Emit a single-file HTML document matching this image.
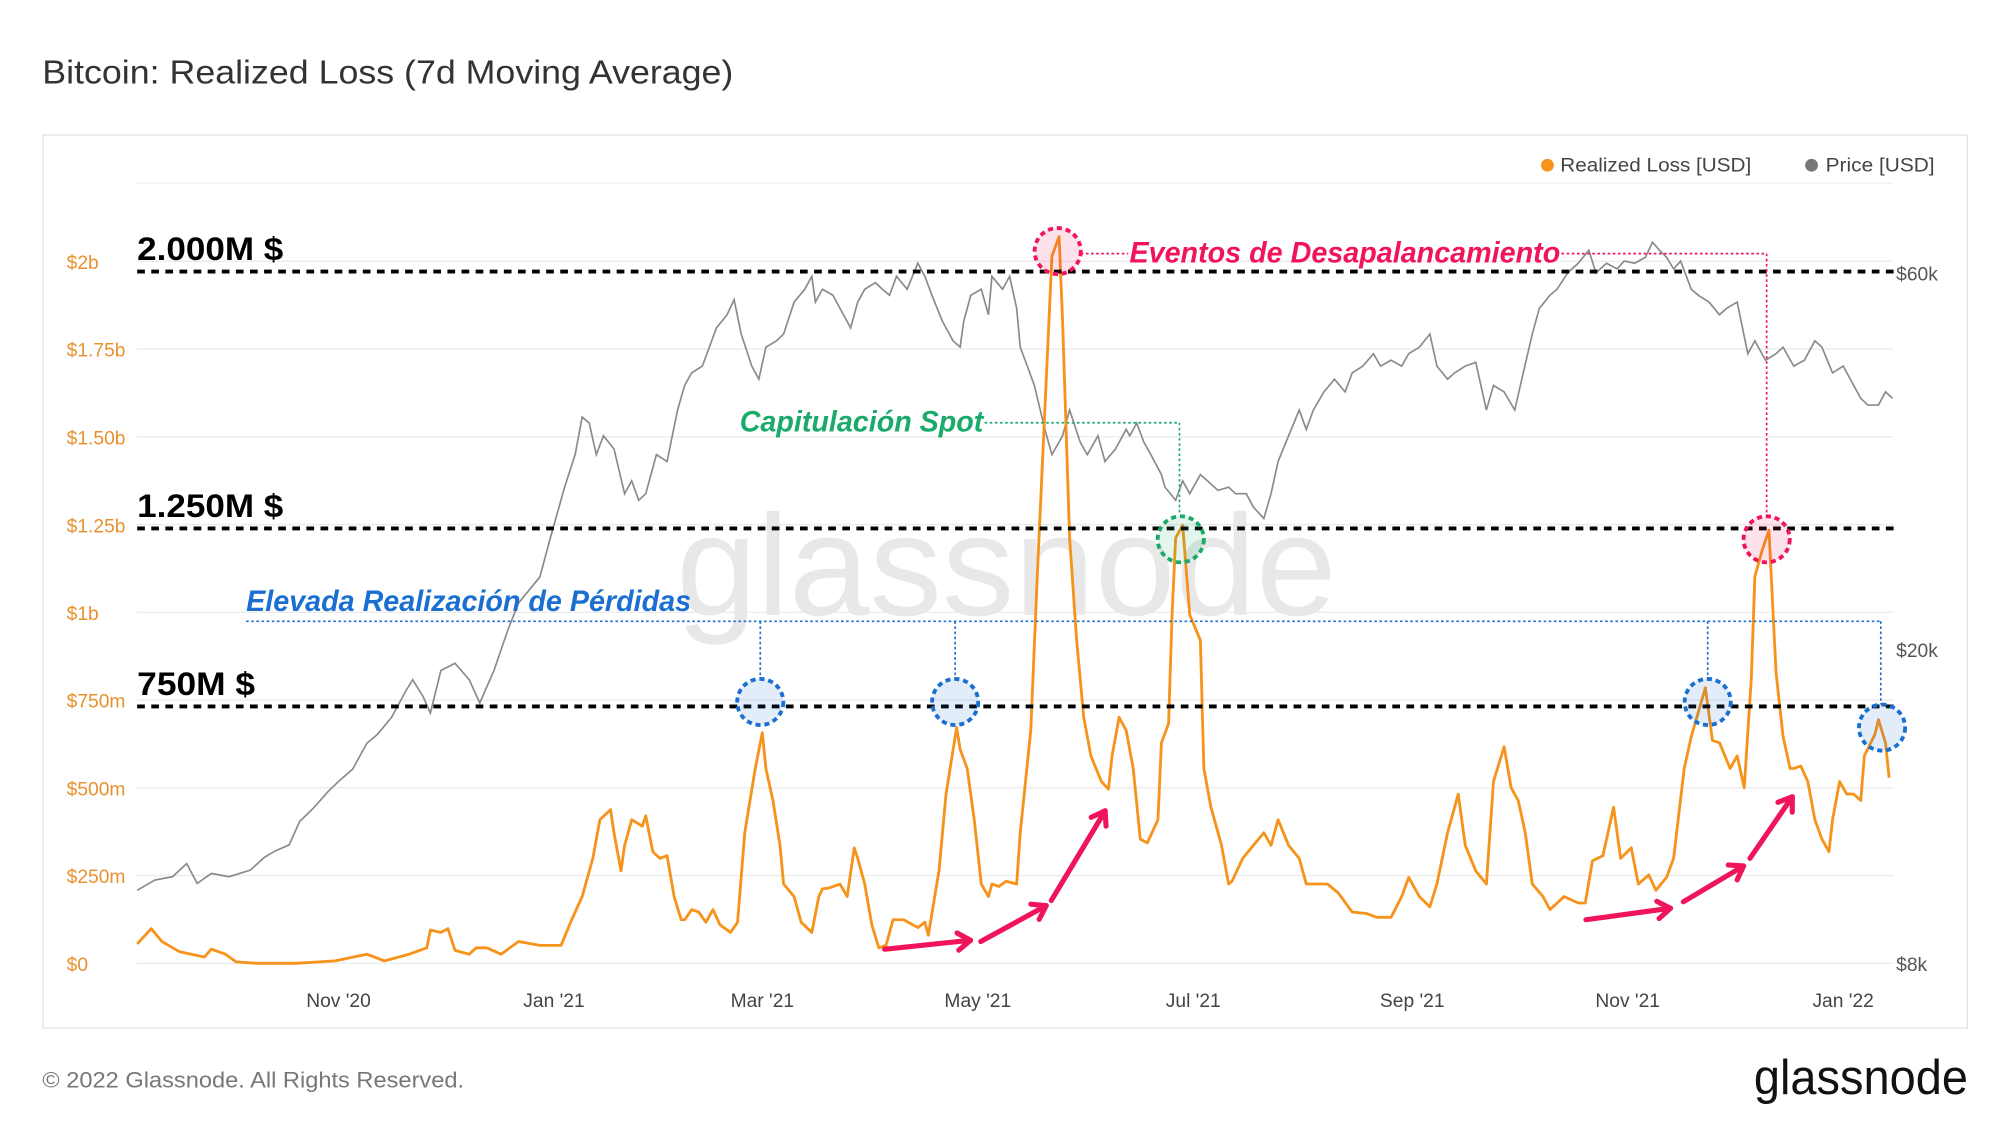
<!DOCTYPE html>
<html><head><meta charset="utf-8"><style>
html,body{margin:0;padding:0;background:#fff;}
svg{display:block;font-family:"Liberation Sans",sans-serif;}
</style></head><body>
<svg id="chart" width="2000" height="1126" viewBox="0 0 1560 879" preserveAspectRatio="none" xmlns="http://www.w3.org/2000/svg">
<rect width="1560" height="879" fill="#fff"/>
<text x="33" y="65" font-size="26" fill="#333" textLength="539" lengthAdjust="spacingAndGlyphs">Bitcoin: Realized Loss (7d Moving Average)</text>
<rect x="33.5" y="105.5" width="1501" height="697" fill="none" stroke="#e3e3e3"/>
<g id="grid"></g>
<text x="785" y="480" font-size="112" fill="#e8e8e8" text-anchor="middle" textLength="515" lengthAdjust="spacingAndGlyphs">glassnode</text>
<g id="series"></g>
<g id="legend">
<circle cx="1207" cy="129" r="5" fill="#f7931a"/>
<text x="1217" y="134" font-size="15" fill="#444" textLength="149" lengthAdjust="spacingAndGlyphs">Realized Loss [USD]</text>
<circle cx="1413" cy="129" r="5" fill="#777"/>
<text x="1424" y="134" font-size="15" fill="#444" textLength="85" lengthAdjust="spacingAndGlyphs">Price [USD]</text>
</g>
<g id="annot"></g>
<text x="33" y="849" font-size="17" fill="#777" textLength="329" lengthAdjust="spacingAndGlyphs">© 2022 Glassnode. All Rights Reserved.</text>
<text x="1535" y="854" font-size="38" fill="#111" text-anchor="end" textLength="167" lengthAdjust="spacingAndGlyphs">glassnode</text>
</svg>
<script>
const lossDays=[0,4,7,12,19,21,25,28,34,45,56,65,70,77,82,83,86,88,90,94,96,99,103,108,114,120,123,126,129,131,134,135,137,138,140,143,144,146,148,150,152,154,155,157,159,161,163,165,168,170,172,175,177,178,180,182,183,186,188,191,193,194,196,199,201,203,204,206,208,210,212,214,217,221,223,224,227,229,232,233,235,237,239,241,242,244,246,249,250,253,255,257,259,261,262,264,266,268,270,273,275,276,278,280,282,284,286,289,290,292,293,294,296,298,301,302,304,307,309,310,313,316,319,321,323,326,329,331,333,337,340,344,348,351,355,358,360,363,366,368,371,374,376,379,382,384,387,389,391,393,395,398,400,404,408,410,412,415,418,420,423,425,428,430,433,435,438,440,444,446,448,451,453,455,457,458,460,462,464,466,468,469,471,473,475,477,479,480,482,484,486,488,489,492,493,495,496];
const lossValues=[55,99,62,33,18,40,26,4,0,0,7,26,7,26,44,95,88,99,37,26,44,44,26,62,51,51,124,190,299,409,438,372,263,336,409,391,420,318,299,307,190,124,124,153,146,117,153,110,88,117,372,555,657,555,464,336,226,190,117,88,190,212,215,226,190,329,299,226,110,44,51,124,124,102,117,80,263,482,672,610,555,409,226,190,226,219,234,226,372,664,1139,1577,2015,2070,1832,1212,920,701,591,518,496,591,701,664,555,354,343,409,628,683,993,1212,1248,993,920,555,445,336,226,234,299,336,372,336,409,336,299,226,226,226,201,146,142,131,131,190,245,190,161,226,372,482,336,263,226,518,617,500,464,372,226,190,153,190,172,172,292,307,445,299,329,226,252,208,245,299,555,646,785,635,628,555,591,500,810,1102,1175,1234,829,646,555,555,562,518,409,354,318,409,518,482,482,464,591,653,694,628,529];
const priceDays=[0,5,10,14,17,21,26,32,36,39,43,46,50,54,57,61,65,68,72,76,78,81,83,86,90,94,97,101,105,108,114,117,121,124,126,128,130,132,135,138,140,142,144,147,150,153,155,157,160,162,164,167,169,171,174,176,178,181,183,186,189,191,192,194,197,199,202,204,206,209,211,213,215,218,221,223,225,228,231,233,234,236,239,241,242,245,247,249,250,252,254,257,259,262,264,267,269,272,274,277,280,281,283,285,287,290,291,294,296,298,301,303,306,309,311,314,316,319,321,323,326,329,331,333,336,339,342,344,347,350,352,355,358,360,363,366,368,371,373,376,379,382,384,387,390,392,395,397,400,402,405,408,411,413,416,419,421,424,427,429,431,433,435,437,440,442,445,448,450,453,456,458,461,464,466,469,472,475,477,480,483,486,488,490,493,495,497];
const priceValues=[9.9,10.2,10.3,10.7,10.1,10.4,10.3,10.5,10.9,11.1,11.3,12.1,12.6,13.2,13.6,14.1,15.2,15.6,16.4,17.7,18.3,17.4,16.6,18.8,19.2,18.3,17.1,18.8,21.2,22.9,24.7,27.7,32.1,35.3,39.4,38.7,35.3,37.3,35.9,31.5,32.7,30.9,31.5,35.3,34.6,40.2,43.2,44.8,45.7,48.3,51.1,53.1,55.5,50.2,45.7,44.0,48.3,49.2,50.2,55.1,57.2,59.4,55.1,57.2,56.2,54.1,51.1,55.1,57.2,58.3,57.2,56.2,59.4,57.2,61.7,59.4,56.2,52.1,49.2,48.3,52.1,56.2,57.2,53.1,59.4,57.2,59.4,54.1,48.3,45.7,43.2,38.0,35.3,37.3,40.2,36.6,35.3,37.3,34.6,35.9,38.0,37.3,38.7,36.6,35.3,33.3,32.1,30.9,32.7,31.5,33.3,32.7,31.8,32.1,31.5,31.5,30.3,29.3,31.5,34.6,37.3,40.2,38.0,40.2,42.4,44.0,42.4,44.8,45.7,47.4,45.7,46.5,45.7,47.4,48.3,50.2,45.7,44.0,44.8,45.7,46.2,40.2,43.2,42.4,40.2,44.0,50.2,54.1,56.2,57.2,60.0,61.7,64.1,60.0,61.7,60.7,62.1,61.7,62.8,65.6,64.1,62.8,60.7,62.1,57.2,56.2,55.1,53.1,54.1,55.1,47.4,49.2,46.5,47.4,48.3,45.7,46.5,49.2,48.3,44.8,45.7,43.2,41.6,40.8,40.8,42.4,41.6];
const leftTicks=["$0","$250m","$500m","$750m","$1b","$1.25b","$1.50b","$1.75b","$2b"];
const leftTickValues=[0,250,500,750,1000,1250,1500,1750,2000];
const rightTickLabels=["$8k","$20k","$60k"];
const rightTickValues=[8,20,60];
const xTickLabels=["Nov '20","Jan '21","Mar '21","May '21","Jul '21","Sep '21","Nov '21","Jan '22"];
const xTickDays=[57,118,177,238,299,361,422,483];
const levelValues=[2000,1250,750];
const levelLabels=["2.000M $","1.250M $","750M $"];

const NS="http://www.w3.org/2000/svg";
const X0=107,X1=1477,PXD=2.755,Y0=752;
const xs=d=>X0+d*PXD;
const yL=v=>Y0-v*68.5/250;
const yP=p=>Y0-539*Math.log(p/8)/Math.log(7.5);
function mk(tag,attrs,parent){const e=document.createElementNS(NS,tag);for(const k in attrs)e.setAttribute(k,attrs[k]);parent.appendChild(e);return e;}
const grid=document.getElementById('grid'),ser=document.getElementById('series'),an=document.getElementById('annot');
mk('line',{x1:X0,x2:X1,y1:143,y2:143,stroke:'#f0f0f0'},grid);
leftTickValues.forEach((v,i)=>{
  const l=mk('line',{x1:X0,x2:X1,y1:yL(v),y2:yL(v),stroke:'#ececec'},grid);
  
  
  const t=mk('text',{x:52,y:yL(v)+6,'font-size':15,fill:'#e8912d'},grid);t.textContent=leftTicks[i];
  
  
});
rightTickValues.forEach((v,i)=>{
  const t=mk('text',{x:1479,y:yP(v)+6,'font-size':15,fill:'#555'},grid);t.textContent=rightTickLabels[i];
  
  
});
xTickDays.forEach((d,i)=>{
  const t=mk('text',{x:xs(d),y:786,'font-size':15,fill:'#444','text-anchor':'middle'},grid);t.textContent=xTickLabels[i];
  
  
});
const pp=mk('path',{d:priceDays.map((d,i)=>(i?'L':'M')+xs(d).toFixed(1)+','+yP(priceValues[i]).toFixed(1)).join(''),fill:'none',stroke:'#8a8a8a','stroke-width':1.3},ser);


const lp=mk('path',{d:lossDays.map((d,i)=>(i?'L':'M')+xs(d).toFixed(1)+','+yL(lossValues[i]).toFixed(1)).join(''),fill:'none',stroke:'#f7931a','stroke-width':2.2,'stroke-linejoin':'round'},ser);


const lvlW=[114,114,92];
levelValues.forEach((v,i)=>{
  const y=yL(v)+[8,3,5][i];
  const l=mk('line',{x1:X0,x2:X1,y1:y,y2:y,stroke:'#000','stroke-width':3,'stroke-dasharray':'6,5'},an);
  
  
  const t=mk('text',{x:107,y:y-9,'font-size':25,'font-weight':'bold',fill:'#000',textLength:lvlW[i],lengthAdjust:'spacingAndGlyphs'},an);t.textContent=levelLabels[i];
  
  
});
function dl(pts,c){const p=mk('polyline',{points:pts,fill:'none',stroke:c,'stroke-width':1.3,'stroke-dasharray':'2,2'},an);return p;}
function circ(x,y,c,f){return mk('circle',{cx:x,cy:y,r:18,fill:f,stroke:c,'stroke-width':3,'stroke-dasharray':'4,3'},an);}
const PINK='#f0145a',GREEN='#1aaa6a',BLUE='#1a6fd0';
dl('843,198 880,198',PINK);dl('1218,198 1378,198 1378,403',PINK);
dl('768,330 920,330 920,402',GREEN);
dl('192,485 1467,485',BLUE);
[[593,530],[745,530],[1332,530],[1467,550]].forEach(a=>dl(`${a[0]},485 ${a[0]},${a[1]}`,BLUE));
let c;
c=circ(825,196,PINK,'rgba(240,20,90,0.12)');
c=circ(1378,421,PINK,'rgba(240,20,90,0.12)');
c=circ(921,421,GREEN,'rgba(26,170,106,0.12)');
[[593,548],[745,548],[1332,548],[1468,568]].forEach(a=>{const e=circ(a[0],a[1],BLUE,'rgba(26,111,208,0.12)');

});
function lab(x,y,s,col,w,name){const t=mk('text',{x:x,y:y,'font-size':23,'font-weight':'bold','font-style':'italic',fill:col,textLength:w,lengthAdjust:'spacingAndGlyphs'},an);t.textContent=s;}
lab(881,205,'Eventos de Desapalancamiento',PINK,336,'deleverage-label');
lab(577,337,'Capitulación Spot',GREEN,190,'capitulation-label');
lab(192,477,'Elevada Realización de Pérdidas',BLUE,347,'elevated-loss-label');
[[690,741,757,734],[765,735,816,707],[820,703,862,633],[1237,718,1303,709],[1313,704,1360,676],[1365,670,1398,622]].forEach(a=>{
  const ang=Math.atan2(a[3]-a[1],a[2]-a[0]),h=12;
  const g=mk('g',{},an);
  
  
  mk('line',{x1:a[0],y1:a[1],x2:a[2],y2:a[3],stroke:PINK,'stroke-width':4,'stroke-linecap':'round'},g);
  [0.6,-0.6].forEach(o=>mk('line',{x1:a[2],y1:a[3],x2:a[2]-h*Math.cos(ang+o),y2:a[3]-h*Math.sin(ang+o),stroke:PINK,'stroke-width':4,'stroke-linecap':'round'},g));
});
</script>
</body></html>
